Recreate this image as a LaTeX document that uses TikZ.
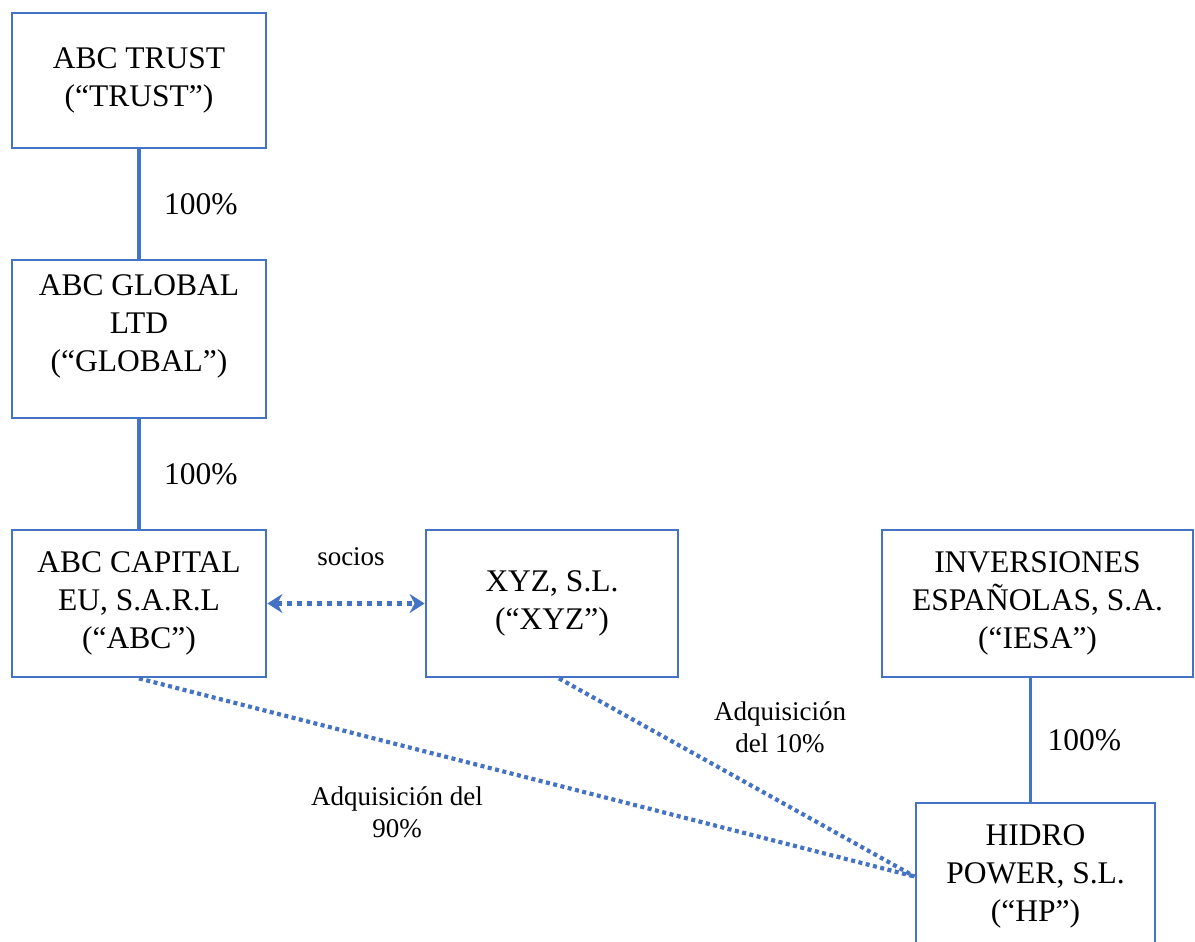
\documentclass[tikz,border=0pt]{standalone}
\usepackage{fontspec}
\setmainfont{Liberation Serif}
\usetikzlibrary{arrows.meta,positioning}
\definecolor{boxblue}{RGB}{68,114,196}

\begin{document}
\begin{tikzpicture}[x=1pt,y=-1pt,
  entity/.style={draw=boxblue,line width=2.8pt,align=center,inner sep=0pt,font=\fontsize{31.5}{38}\selectfont},
  owns/.style={draw=boxblue,line width=3.5pt},
  deal/.style={draw=boxblue,line width=4.2pt,dash pattern=on 4pt off 3.5pt},
  partners/.style={draw=boxblue,line width=5pt,dash pattern=on 5pt off 5pt,{Stealth[length=15pt,width=19pt,inset=5pt]}-{Stealth[length=15pt,width=19pt,inset=5pt]}},
  pct/.style={font=\fontsize{31.5}{38}\selectfont},
  note/.style={align=center,font=\fontsize{27}{32}\selectfont}]
\useasboundingbox (0,0) rectangle (1195,942);

\node (trust)[entity,minimum width=254pt,minimum height=135pt] at (139,80.5) {ABC TRUST\\(“TRUST”)};
\node (global)[entity,minimum width=254pt,minimum height=158pt] at (139,339) {ABC GLOBAL\\LTD\\(“GLOBAL”)\\[-7pt]};
\node (abc)[entity,minimum width=254pt,minimum height=147pt] at (139,603.5) {ABC CAPITAL\\EU, S.A.R.L\\(“ABC”)};
\node (xyz)[entity,minimum width=252pt,minimum height=147pt] at (552,603.5) {XYZ, S.L.\\(“XYZ”)};
\node (iesa)[entity,minimum width=311pt,minimum height=147pt] at (1037.5,603.5) {INVERSIONES\\ESPAÑOLAS, S.A.\\(“IESA”)};
\node (hp)[entity,minimum width=239pt,minimum height=147pt] at (1035.5,876.5) {HIDRO\\POWER, S.L.\\(“HP”)};

\draw [owns] (trust) to node (p1)[pct,right=20pt]{100\%} (global);
\draw [owns] (global) to node (p2)[pct,right=20pt]{100\%} (abc);
\draw [owns] ([xshift=-5pt]hp.north) to node (p3)[pct,right=12pt]{100\%} ([xshift=-5pt]hp.north |- iesa.south);

\draw [partners] (abc) to (xyz);
\node (socios)[note] at (351,557) {socios};

\draw [deal] (abc.south) to (hp.west);
\draw [deal] ([xshift=7pt]xyz.south) to (hp.west);
\node (n90)[note] at (397,812) {Adquisición del\\90\%};
\node (n10)[note] at (780,727) {Adquisición\\del 10\%};
\end{tikzpicture}
\end{document}
